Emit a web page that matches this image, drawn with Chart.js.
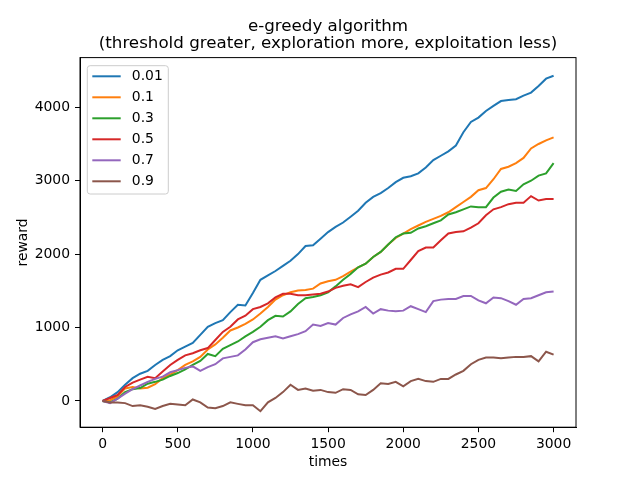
<!DOCTYPE html>
<html>
<head>
<meta charset="utf-8">
<title>e-greedy algorithm</title>
<script src="https://cdn.jsdelivr.net/npm/chart.js@4.4.1/dist/chart.umd.min.js"></script>
<style>
  html, body { margin: 0; padding: 0; background: #fff; }
  #wrap { width: 640px; height: 480px; }
</style>
</head>
<body>
<div id="wrap"><canvas id="rewardChart" width="640" height="480"></canvas></div>
<script>
// values, one sample every 50 steps
var times = [0, 50, 100, 150, 200, 250, 300, 350, 400, 450,
  500, 550, 600, 650, 700, 750, 800, 850, 900, 950,
  1000, 1050, 1100, 1150, 1200, 1250, 1300, 1350, 1400, 1450,
  1500, 1550, 1600, 1650, 1700, 1750, 1800, 1850, 1900, 1950,
  2000, 2050, 2100, 2150, 2200, 2250, 2300, 2350, 2400, 2450,
  2500, 2550, 2600, 2650, 2700, 2750, 2800, 2850, 2900, 2950,
  3000];

var eps001 = [0, 50, 120, 220, 310, 370, 410, 490, 560, 610,
  690, 740, 790, 900, 1010, 1060, 1100, 1210, 1310, 1300,
  1470, 1650, 1710, 1770, 1840, 1910, 2000, 2110, 2120, 2210,
  2300, 2370, 2430, 2510, 2590, 2700, 2780, 2830, 2900, 2980,
  3040, 3060, 3100, 3180, 3280, 3340, 3400, 3480, 3660, 3800,
  3860, 3950, 4020, 4085, 4100, 4110, 4160, 4200, 4290, 4390,
  4430];

var eps01 = [0, 10, 60, 170, 190, 170, 180, 230, 310, 360,
  420, 490, 540, 600, 700, 770, 860, 960, 1000, 1050,
  1110, 1190, 1280, 1380, 1440, 1480, 1505, 1510, 1530, 1600,
  1630, 1650, 1700, 1760, 1820, 1870, 1960, 2030, 2130, 2220,
  2280, 2340, 2390, 2440, 2480, 2520, 2570, 2640, 2710, 2780,
  2870, 2900, 3020, 3160, 3190, 3240, 3310, 3440, 3500, 3550,
  3590];

var eps03 = [0, -20, 30, 120, 160, 175, 235, 260, 290, 340,
  380, 430, 490, 545, 640, 610, 710, 760, 810, 880,
  940, 1010, 1100, 1160, 1150, 1220, 1320, 1400, 1415, 1440,
  1480, 1560, 1650, 1730, 1820, 1870, 1960, 2030, 2130, 2230,
  2280, 2290, 2350, 2380, 2420, 2460, 2540, 2570, 2610, 2650,
  2640, 2640, 2770, 2850, 2880, 2860, 2950, 3000, 3070, 3100,
  3240];

var eps05 = [0, 40, 80, 190, 250, 290, 330, 310, 400, 490,
  560, 620, 650, 690, 720, 830, 940, 1010, 1110, 1160,
  1250, 1280, 1330, 1410, 1460, 1460, 1440, 1440, 1450, 1460,
  1490, 1540, 1570, 1590, 1550, 1620, 1680, 1720, 1750, 1800,
  1800, 1920, 2040, 2090, 2090, 2190, 2280, 2300, 2310, 2360,
  2420, 2530, 2610, 2640, 2680, 2700, 2700, 2790, 2730, 2750,
  2750];

var eps07 = [0, -30, 30, 100, 160, 210, 260, 300, 330, 390,
  420, 450, 470, 410, 460, 500, 580, 600, 620, 700,
  800, 840, 860, 880, 850, 880, 910, 950, 1040, 1020,
  1060, 1040, 1130, 1180, 1220, 1280, 1190, 1250, 1230, 1220,
  1230, 1290, 1250, 1210, 1360, 1380, 1390, 1390, 1430, 1430,
  1370, 1330, 1410, 1400, 1360, 1310, 1390, 1400, 1440, 1480,
  1490];

var eps09 = [0, -20, -20, -30, -70, -60, -80, -110, -70, -40,
  -50, -60, 20, -20, -90, -100, -70, -20, -40, -60,
  -60, -140, -20, 40, 120, 220, 150, 170, 140, 150,
  120, 110, 160, 150, 90, 80, 150, 240, 230, 260,
  200, 270, 300, 270, 260, 300, 300, 360, 410, 500,
  560, 590, 590, 580, 590, 600, 600, 610, 540, 670,
  630];

var seriesLabels = ['0.01', '0.1', '0.3', '0.5', '0.7', '0.9'];
var xTicks = [0, 500, 1000, 1500, 2000, 2500, 3000];
var yTicks = [0, 1000, 2000, 3000, 4000];

var colors = ['#1f77b4', '#ff7f0e', '#2ca02c', '#d62728', '#9467bd', '#8c564b'];
var allSeries = [eps001, eps01, eps03, eps05, eps07, eps09];

Chart.defaults.font.family = "'DejaVu Sans', sans-serif";
Chart.defaults.color = '#000';

// full box round the axes, like matplotlib spines
var framePlugin = {
  id: 'frame',
  afterDatasetsDraw: function(chart) {
    var ctx = chart.ctx, a = chart.chartArea;
    ctx.save();
    ctx.strokeStyle = '#000';
    ctx.lineWidth = 1;
    ctx.strokeRect(a.left, a.top, a.right - a.left, a.bottom - a.top);
    ctx.restore();
  }
};

// legend box in the upper left corner of the plot
var legendBox = {
  id: 'legendBox',
  afterDraw: function(chart) {
    var ctx = chart.ctx, a = chart.chartArea;
    var x0 = a.left + 7.3, y0 = a.top + 8.1, w = 81, h = 128.3, r = 2.8;
    ctx.save();
    ctx.beginPath();
    ctx.moveTo(x0 + r, y0);
    ctx.lineTo(x0 + w - r, y0);
    ctx.arcTo(x0 + w, y0, x0 + w, y0 + r, r);
    ctx.lineTo(x0 + w, y0 + h - r);
    ctx.arcTo(x0 + w, y0 + h, x0 + w - r, y0 + h, r);
    ctx.lineTo(x0 + r, y0 + h);
    ctx.arcTo(x0, y0 + h, x0, y0 + h - r, r);
    ctx.lineTo(x0, y0 + r);
    ctx.arcTo(x0, y0, x0 + r, y0, r);
    ctx.closePath();
    ctx.fillStyle = 'rgba(255,255,255,0.8)';
    ctx.fill();
    ctx.strokeStyle = '#cccccc';
    ctx.lineWidth = 1;
    ctx.stroke();

    ctx.font = "13.9px 'DejaVu Sans'";
    ctx.textBaseline = 'middle';
    ctx.textAlign = 'left';
    chart.data.datasets.forEach(function(ds, i) {
      var y = y0 + 10.6 + i * 21;
      ctx.beginPath();
      ctx.moveTo(x0 + 5, y);
      ctx.lineTo(x0 + 33.4, y);
      ctx.strokeStyle = ds.borderColor;
      ctx.lineWidth = 2;
      ctx.stroke();
      ctx.fillStyle = '#000';
      ctx.fillText(ds.label, x0 + 44.5, y);
    });
    ctx.restore();
  }
};

var axisLines = {
  display: true,
  drawOnChartArea: false,
  drawTicks: true,
  tickLength: 5,
  tickColor: '#000',
  tickWidth: 1
};

var ctx = document.getElementById('rewardChart').getContext('2d');
new Chart(ctx, {
  type: 'line',
  data: {
    datasets: allSeries.map(function(vals, i) {
      return {
        label: seriesLabels[i],
        data: times.map(function(t, j) { return { x: t, y: vals[j] }; }),
        borderColor: colors[i],
        backgroundColor: colors[i],
        borderWidth: 2,
        pointRadius: 0,
        tension: 0,
        fill: false,
        order: allSeries.length - i
      };
    })
  },
  options: {
    responsive: false,
    devicePixelRatio: 1,
    animation: false,
    layout: { padding: { top: 0, left: 0, right: 64, bottom: 0 } },
    scales: {
      x: {
        type: 'linear',
        min: -150,
        max: 3149,
        afterBuildTicks: function(s) { s.ticks = xTicks.map(function(v) { return { value: v }; }); },
        afterFit: function(s) { s.height = 52.8; },
        grid: axisLines,
        border: { display: true, color: '#000', width: 1 },
        ticks: {
          color: '#000', font: { size: 13.9 }, padding: 4,
          maxRotation: 0, autoSkip: false,
          callback: function(v) { return String(v); }
        },
        title: { display: true, text: 'times', color: '#000', font: { size: 13.9 }, padding: { top: 0, bottom: 9.7 } }
      },
      y: {
        type: 'linear',
        min: -358,
        max: 4677,
        afterBuildTicks: function(s) { s.ticks = yTicks.map(function(v) { return { value: v }; }); },
        afterFit: function(s) { s.width = 80; },
        grid: axisLines,
        border: { display: true, color: '#000', width: 1 },
        ticks: {
          color: '#000', font: { size: 13.9 }, padding: 5,
          callback: function(v) { return String(v); }
        },
        title: { display: true, text: 'reward', color: '#000', font: { size: 13.9 }, padding: { top: 14.7, bottom: 0 } }
      }
    },
    plugins: {
      legend: { display: false },
      tooltip: { enabled: false },
      title: {
        display: true,
        fullSize: false,
        text: ['e-greedy algorithm', '(threshold greater, exploration more, exploitation less)'],
        color: '#000',
        font: { size: 16.7, weight: 'normal', lineHeight: '16.3px' },
        padding: { top: 19, bottom: 6 }
      }
    }
  },
  plugins: [framePlugin, legendBox]
});
</script>
</body>
</html>
